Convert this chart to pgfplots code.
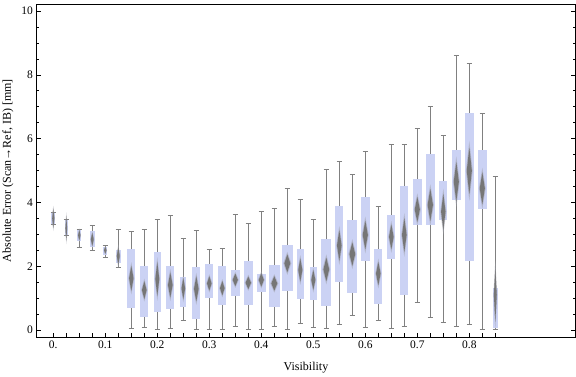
\documentclass[border=0pt]{standalone}
\usepackage{pgfplots}
\pgfplotsset{compat=1.18}
\usepackage{pgfplotstable}
\usepgfplotslibrary{statistics}
\usetikzlibrary{calc}
\usepackage{fontspec}
\setmainfont{Liberation Serif}
\definecolor{boxblue}{RGB}{203,210,244}
\definecolor{whisk}{RGB}{128,128,128}
\definecolor{diam}{RGB}{118,118,118}
\definecolor{halo}{RGB}{160,162,172}

\pgfdeclareplotmark{vdiam}{%
  \pgfpathmoveto{\pgfpoint{0bp}{0.9*\dh bp}}%
  \pgfpathlineto{\pgfpoint{0.85*\dw bp}{0bp}}%
  \pgfpathlineto{\pgfpoint{0bp}{-0.9*\dh bp}}%
  \pgfpathlineto{\pgfpoint{-0.85*\dw bp}{0bp}}%
  \pgfpathclose\pgfusepathqfill}
\pgfdeclareplotmark{vdiamh}{%
  \pgfpathmoveto{\pgfpoint{0bp}{1.15*\dh bp}}%
  \pgfpathlineto{\pgfpoint{1.15*\dw bp}{0bp}}%
  \pgfpathlineto{\pgfpoint{0bp}{-1.15*\dh bp}}%
  \pgfpathlineto{\pgfpoint{-1.15*\dw bp}{0bp}}%
  \pgfpathclose\pgfusepathqfill}

% pos, lower whisker, q1, median, q3, upper whisker, box width (axis units)
\newcommand{\bx}[7]{\addplot[boxplot prepared={draw position=#1, lower whisker=#2, lower quartile=#3, median=#4, upper quartile=#5, upper whisker=#6, box extend=#7}] coordinates {};}

\pgfplotstableread{
x     med  dh  dw
0     3.50 11  1.3
0.025 3.19 14  1.0
0.05  2.97 6   1.4
0.075 2.84 7.5 1.7
0.1   2.50 4   1.5
0.125 2.32 10  1.7
0.15  1.62 14  2.6
0.175 1.25 10  2.7
0.2   1.60 19  2.3
0.225 1.41 14  2.7
0.25  1.30 12  2.1
0.275 1.29 14  2.7
0.3   1.46 8   2.7
0.325 1.31 8   2.7
0.35  1.57 7   3.0
0.375 1.48 7   3.2
0.4   1.57 7.5 3.0
0.425 1.46 8   3.5
0.45  2.09 10  3.5
0.475 1.88 13  2.4
0.5   1.57 11  2.4
0.525 1.90 13  3.4
0.55  2.65 17  2.7
0.575 2.38 13  3.4
0.6   2.98 16  3.0
0.625 1.77 13  2.7
0.65  2.92 14  2.7
0.675 2.98 19  2.7
0.7   3.78 14  3.0
0.725 3.92 18  3.1
0.75  3.71 20  2.6
0.775 4.65 22  3.0
0.8   4.99 26  3.0
0.825 4.44 18  3.0
0.85  1.10 30  1.7
}\diamonds

\begin{document}
\begin{tikzpicture}
\begin{axis}[
  name=ax,
  scale only axis,
  width=539bp, height=333.3bp,
  xmin=-0.0323, xmax=1.0042,
  ymin=-0.229, ymax=10.22,
  axis line style={line width=0.9bp, black},
  xtick={0,0.025,0.05,0.075,0.1,0.125,0.15,0.175,0.2,0.225,0.25,0.275,0.3,0.325,0.35,0.375,0.4,0.425,0.45,0.475,0.5,0.525,0.55,0.575,0.6,0.625,0.65,0.675,0.7,0.725,0.75,0.775,0.8,0.825,0.85},
  xticklabels={0.,{},{},{},0.1,{},{},{},0.2,{},{},{},0.3,{},{},{},0.4,{},{},{},0.5,{},{},{},0.6,{},{},{},0.7,{},{},{},0.8,{},{}},
  ytick={0,2,4,6,8,10},
  minor y tick num=3,
  xtick pos=left, ytick pos=both,
  xticklabel pos=left, yticklabel pos=left,
  tick align=inside,
  major tick length=4.5bp, minor tick length=2.5bp,
  tick style={black, line width=0.6bp},
  /pgf/number format/assume math mode=true,
  tick label style={font=\fontsize{11.5bp}{13bp}\selectfont},
  every axis x label/.style={at={(axis description cs:0.5,0)}, anchor=center, yshift=-30bp, font=\fontsize{12bp}{14bp}\selectfont},
  every axis y label/.style={at={(axis description cs:-0.0529,0.5)}, anchor=center, rotate=90, font=\fontsize{12bp}{14bp}\selectfont},
  xlabel={Visibility},
  ylabel={Absolute Error (Scan→Ref, IB) [mm]},
  boxplot/draw direction=y,
  boxplot/whisker extend=0.0106,
  boxplot/every box/.style={fill=boxblue, draw=none},
  boxplot/every whisker/.style={draw=whisk, line width=1bp},
  boxplot/every median/.style={draw=none},
]
\bx{0}{3.32}{3.32}{3.50}{3.66}{3.68}{0.0071}
\bx{0.025}{2.97}{2.97}{3.19}{3.45}{3.45}{0.0052}
\bx{0.05}{2.59}{2.80}{2.97}{3.13}{3.16}{0.0077}
\bx{0.075}{2.48}{2.61}{2.84}{3.10}{3.28}{0.0096}
\bx{0.1}{2.26}{2.36}{2.50}{2.60}{2.65}{0.0083}
\bx{0.125}{1.97}{2.11}{2.32}{2.51}{3.16}{0.0096}
\bx{0.15}{0.05}{0.70}{1.62}{2.55}{3.09}{0.0148}
\bx{0.175}{0.08}{0.42}{1.25}{2.01}{3.16}{0.0154}
\bx{0.2}{0.0}{0.57}{1.60}{2.44}{3.47}{0.0125}
\bx{0.225}{0.05}{0.67}{1.41}{2.01}{3.60}{0.0154}
\bx{0.25}{0.30}{0.71}{1.30}{1.67}{2.87}{0.0115}
\bx{0.275}{0.02}{0.36}{1.29}{1.98}{3.13}{0.0154}
\bx{0.3}{0.0}{1.01}{1.46}{2.07}{2.52}{0.0154}
\bx{0.325}{0.0}{0.79}{1.31}{2.01}{2.55}{0.0154}
\bx{0.35}{0.12}{1.08}{1.57}{1.88}{3.63}{0.0167}
\bx{0.375}{0.0}{0.79}{1.48}{2.16}{3.34}{0.0183}
\bx{0.4}{0.0}{1.20}{1.57}{1.76}{3.73}{0.0173}
\bx{0.425}{0.12}{0.73}{1.46}{2.04}{3.81}{0.0202}
\bx{0.45}{0.02}{1.23}{2.09}{2.66}{4.44}{0.0202}
\bx{0.475}{0.21}{0.98}{1.88}{2.54}{4.10}{0.0135}
\bx{0.5}{0.09}{0.95}{1.57}{1.97}{3.47}{0.0135}
\bx{0.525}{0.05}{0.76}{1.90}{2.85}{5.04}{0.0192}
\bx{0.55}{0.17}{1.49}{2.65}{3.89}{5.29}{0.0154}
\bx{0.575}{0.47}{1.17}{2.38}{3.45}{4.86}{0.0192}
\bx{0.6}{0.08}{2.17}{2.98}{4.17}{5.60}{0.0173}
\bx{0.625}{0.30}{0.82}{1.77}{2.54}{3.88}{0.0154}
\bx{0.65}{0.05}{2.24}{2.92}{3.61}{5.82}{0.0154}
\bx{0.675}{0.12}{1.11}{2.98}{4.51}{5.82}{0.0154}
\bx{0.7}{0.87}{3.30}{3.78}{4.73}{6.32}{0.0173}
\bx{0.725}{0.40}{3.30}{3.92}{5.52}{7.00}{0.0179}
\bx{0.75}{0.24}{3.45}{3.71}{4.67}{6.10}{0.0148}
\bx{0.775}{0.12}{4.08}{4.65}{5.64}{8.60}{0.0173}
\bx{0.8}{0.18}{2.17}{4.99}{6.80}{8.36}{0.0173}
\bx{0.825}{0.0}{3.80}{4.44}{5.64}{6.79}{0.0173}
\bx{0.85}{0.0}{0.07}{1.10}{1.32}{4.81}{0.0096}
\addplot[scatter, only marks, mark=vdiamh, opacity=0.55,
  scatter/use mapped color={draw=halo, fill=halo},
  visualization depends on={\thisrow{dh} \as \dh},
  visualization depends on={\thisrow{dw} \as \dw}]
  table[x=x, y=med] {\diamonds};
\addplot[scatter, only marks, mark=vdiam,
  scatter/use mapped color={draw=diam, fill=diam},
  visualization depends on={\thisrow{dh} \as \dh},
  visualization depends on={\thisrow{dw} \as \dw}]
  table[x=x, y=med] {\diamonds};
\end{axis}
\pgfresetboundingbox
\path[use as bounding box] ($(ax.south west)+(-36.5bp,-39.7bp)$) rectangle ($(ax.north east)+(0.5bp,4bp)$);
\end{tikzpicture}
\end{document}
